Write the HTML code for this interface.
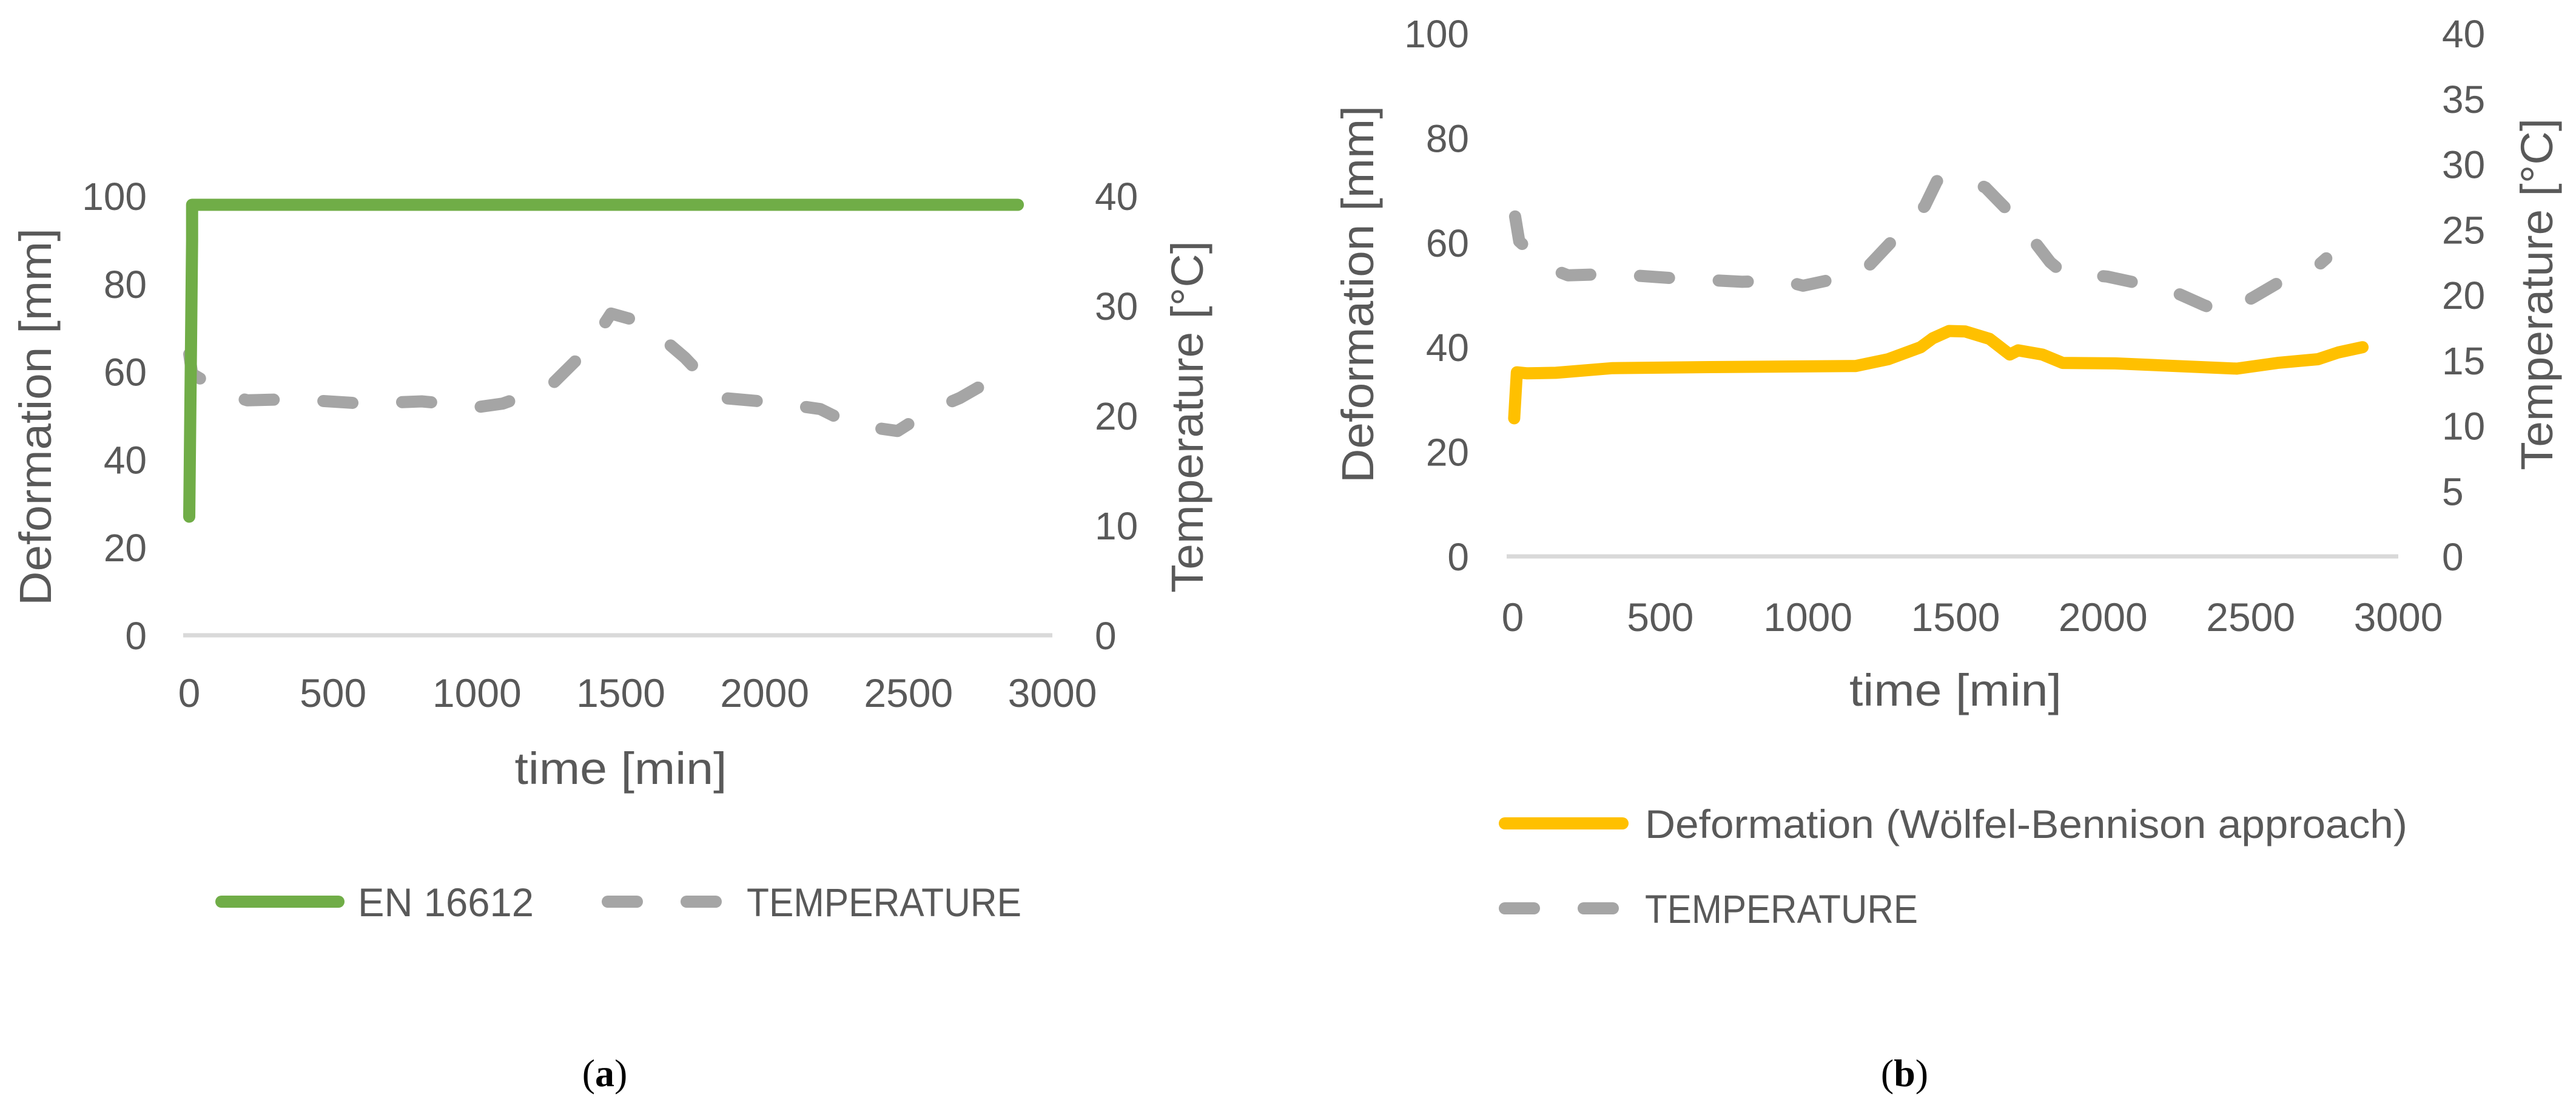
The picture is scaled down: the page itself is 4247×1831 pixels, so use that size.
<!DOCTYPE html>
<html><head><meta charset="utf-8">
<style>
html,body{margin:0;padding:0;background:#fff;}
svg{display:block;}
text{font-family:"Liberation Sans",sans-serif;fill:#595959;}
</style></head>
<body>
<svg id="fig" width="4247" height="1831" viewBox="0 0 4247 1831" xmlns="http://www.w3.org/2000/svg">
  <g id="chartA"></g>
  <g id="chartB"></g>
  <text x="997" y="1790" text-anchor="middle" style="font-family:'Liberation Serif',serif;font-size:64px;fill:#000">(<tspan font-weight="bold">a</tspan>)</text>
  <text x="3140" y="1790" text-anchor="middle" style="font-family:'Liberation Serif',serif;font-size:64px;fill:#000">(<tspan font-weight="bold">b</tspan>)</text>
</svg>
<script>
const xTicks = [0, 500, 1000, 1500, 2000, 2500, 3000];
const leftTicks = [0, 20, 40, 60, 80, 100];
const rightTicksA = [0, 10, 20, 30, 40];
const rightTicksB = [0, 5, 10, 15, 20, 25, 30, 35, 40];

const enTime = [0, 10, 10, 2880];
const enValue = [27, 90, 98, 98];

const tempTimeA = [0, 10, 135, 202, 364, 606, 808, 1009, 1090, 1251, 1386, 1466, 1534, 1655, 1722, 1857, 2031, 2193, 2247, 2381, 2462, 2570, 2678, 2812];
const tempValueA = [25.6, 23.8, 21.9, 21.4, 21.5, 21.1, 21.3, 20.8, 21.1, 22.6, 26.1, 29.3, 28.8, 26.8, 25.3, 21.6, 21.2, 20.6, 19.9, 18.9, 18.6, 20.4, 21.6, 23.6];

const defTimeB = [5, 14, 49, 146, 338, 668, 1162, 1272, 1382, 1423, 1478, 1533, 1615, 1684, 1712, 1794, 1863, 2041, 2453, 2591, 2728, 2797, 2879];
const defValueB = [26.4, 35.2, 35.0, 35.1, 36.0, 36.2, 36.4, 37.7, 40.0, 41.7, 43.1, 43.0, 41.6, 38.6, 39.4, 38.6, 37.0, 36.9, 35.9, 37.0, 37.7, 39.0, 40.0];

const tempTimeB = [8, 22, 118, 187, 338, 530, 777, 915, 984, 1107, 1176, 1272, 1396, 1437, 1519, 1602, 1684, 1739, 1821, 1863, 2014, 2179, 2234, 2343, 2412, 2508, 2591, 2701, 2756];
const tempValueB = [26.0, 24.1, 22.1, 21.5, 21.6, 21.3, 21.0, 21.1, 20.7, 21.3, 21.5, 23.8, 26.8, 28.7, 29.1, 28.2, 26.3, 24.9, 22.5, 21.7, 21.4, 20.6, 20.3, 19.2, 18.6, 19.8, 20.9, 21.7, 22.8];

const NS = "http://www.w3.org/2000/svg";
function mk(parent, tag, attrs, txt) {
  const e = document.createElementNS(NS, tag);
  for (const k in attrs) e.setAttribute(k, attrs[k]);
  if (txt !== undefined) e.textContent = txt;
  parent.appendChild(e);
  return e;
}
function linePath(ts, vs, sx, sy) {
  return ts.map((t, i) => (i ? "L" : "M") + sx(t).toFixed(1) + " " + sy(vs[i]).toFixed(1)).join(" ");
}

function drawChart(g, cfg) {
  const sx = t => cfg.x0 + (t / 3000) * (cfg.x1 - cfg.x0);
  const syL = v => cfg.y0 - (v / 100) * (cfg.y0 - cfg.y1);
  const syR = v => cfg.y0 - (v / 40) * (cfg.y0 - cfg.y1);

  const ax = mk(g, "line", {x1: cfg.x0 - 10, x2: cfg.x1, y1: cfg.y0, y2: cfg.y0, stroke: "#d9d9d9", "stroke-width": 7});
  
  

  xTicks.forEach(t => {
    const e = mk(g, "text", {x: sx(t), y: cfg.xLabY, "text-anchor": "middle", "font-size": 66}, String(t));
    
    
  });
  leftTicks.forEach(v => {
    const e = mk(g, "text", {x: cfg.leftLabX, y: syL(v) + 23, "text-anchor": "end", "font-size": 64}, String(v));
    
    
  });
  cfg.rightTicks.forEach(v => {
    const e = mk(g, "text", {x: cfg.rightLabX, y: syR(v) + 23, "text-anchor": "start", "font-size": 64}, String(v));
    
    
  });

  const lt = mk(g, "text", {x: 0, y: 0, "text-anchor": "middle", "font-size": 74, textLength: 622, lengthAdjust: "spacingAndGlyphs",
    transform: `translate(${cfg.leftTitleX},${cfg.titleY}) rotate(-90)`}, "Deformation [mm]");
  
  
  const rt = mk(g, "text", {x: 0, y: 0, "text-anchor": "middle", "font-size": 74, textLength: 580, lengthAdjust: "spacingAndGlyphs",
    transform: `translate(${cfg.rightTitleX},${cfg.titleY}) rotate(-90)`}, "Temperature [°C]");
  
  
  const xt = mk(g, "text", {x: (cfg.x0 + cfg.x1) / 2, y: cfg.xTitleY, "text-anchor": "middle", "font-size": 74, textLength: 350, lengthAdjust: "spacingAndGlyphs"}, "time [min]");
  
  

  const tp = mk(g, "path", {d: linePath(cfg.tempT, cfg.tempV, sx, syR), fill: "none", stroke: "#a5a5a5", "stroke-width": 20,
    "stroke-linecap": "round", "stroke-linejoin": "round", "stroke-dasharray": "48 82"});
  
  

  const dp = mk(g, "path", {d: linePath(cfg.defT, cfg.defV, sx, syL), fill: "none", stroke: cfg.defColor, "stroke-width": 20,
    "stroke-linecap": "round", "stroke-linejoin": "round"});
  
  
}

const gA = document.getElementById("chartA");
drawChart(gA, {x0: 312, x1: 1735, y0: 1047, y1: 323, xLabY: 1165, leftLabX: 242, rightLabX: 1805,
  leftTitleX: 84, rightTitleX: 1983, titleY: 687, xTitleY: 1292, rightTicks: rightTicksA,
  tempT: tempTimeA, tempV: tempValueA, defT: enTime, defV: enValue, defColor: "#70ad47"});

const gB = document.getElementById("chartB");
drawChart(gB, {x0: 2494, x1: 3954, y0: 917, y1: 55, xLabY: 1040, leftLabX: 2422, rightLabX: 4026,
  leftTitleX: 2264, rightTitleX: 4208, titleY: 485, xTitleY: 1163, rightTicks: rightTicksB,
  tempT: tempTimeB, tempV: tempValueB, defT: defTimeB, defV: defValueB, defColor: "#ffc000"});

// legends
const la1 = mk(gA, "line", {x1: 365, x2: 558, y1: 1486, y2: 1486, stroke: "#70ad47", "stroke-width": 20, "stroke-linecap": "round"});


const la1t = mk(gA, "text", {x: 590, y: 1510, "font-size": 66, textLength: 290, lengthAdjust: "spacingAndGlyphs"}, "EN 16612");


const la2 = mk(gA, "line", {x1: 1002, x2: 1183, y1: 1486, y2: 1486, stroke: "#a5a5a5", "stroke-width": 20, "stroke-linecap": "round", "stroke-dasharray": "48 82"});


const la2t = mk(gA, "text", {x: 1231, y: 1510, "font-size": 66, textLength: 453, lengthAdjust: "spacingAndGlyphs"}, "TEMPERATURE");



const lb1 = mk(gB, "line", {x1: 2481, x2: 2675, y1: 1357, y2: 1357, stroke: "#ffc000", "stroke-width": 20, "stroke-linecap": "round"});


const lb1t = mk(gB, "text", {x: 2712, y: 1381, "font-size": 66, textLength: 1257, lengthAdjust: "spacingAndGlyphs"}, "Deformation (Wölfel-Bennison approach)");


const lb2 = mk(gB, "line", {x1: 2481, x2: 2660, y1: 1497, y2: 1497, stroke: "#a5a5a5", "stroke-width": 20, "stroke-linecap": "round", "stroke-dasharray": "48 82"});


const lb2t = mk(gB, "text", {x: 2712, y: 1521, "font-size": 66, textLength: 450, lengthAdjust: "spacingAndGlyphs"}, "TEMPERATURE");


</script>
</body></html>
